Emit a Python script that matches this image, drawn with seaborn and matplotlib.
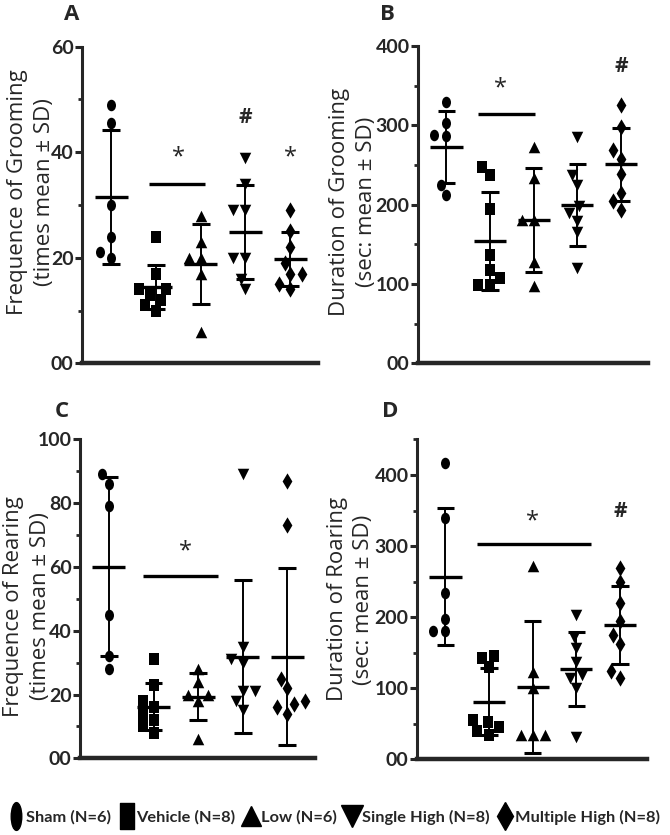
import numpy as np
import pandas as pd
import matplotlib
matplotlib.use('Agg')
import matplotlib.pyplot as plt
import seaborn as sns
from matplotlib.path import Path
from matplotlib.transforms import Affine2D
from matplotlib.lines import Line2D
from matplotlib.ticker import MultipleLocator, FuncFormatter

groups = ['Sham', 'Vehicle', 'Low', 'Single High', 'Multiple High']
group_n = [6, 8, 6, 8, 8]

# individual animals, per group
groom_freq = [[49, 45.5, 30, 24, 21, 20],
              [24, 17, 14, 14, 13, 12, 11, 10],
              [28, 23, 20, 20, 17, 6],
              [39, 34, 29, 29, 20, 20, 16, 14],
              [29, 25, 22, 19, 17, 17, 15, 14]]
groom_freq_mean = [31.5, 14.5, 18.8, 24.9, 19.7]
groom_freq_sd = [12.7, 4.2, 7.6, 8.9, 5.1]

groom_dur = [[330, 303, 288, 287, 225, 212],
             [248, 237, 195, 137, 118, 107, 99, 99],
             [273, 233, 181, 181, 128, 97],
             [285, 238, 225, 198, 190, 180, 165, 120],
             [326, 298, 269, 258, 239, 215, 204, 193]]
groom_dur_mean = [272.7, 154, 180.7, 199.6, 250.8]
groom_dur_sd = [45.5, 62, 66, 52, 46]

rear_freq = [[89, 86, 79, 45, 32, 28],
             [31, 23, 18, 16, 14, 12, 10, 8],
             [28, 24, 20, 20, 18, 6],
             [89, 35, 31, 30, 21, 21, 18, 15],
             [87, 73, 25, 22, 18, 17, 16, 14]]
rear_freq_mean = [60.1, 16.2, 19.3, 31.8, 31.8]
rear_freq_sd = [28, 7.4, 7.3, 24, 27.7]

rear_dur = [[417, 339, 234, 198, 180, 180],
            [145, 143, 130, 55, 53, 45, 40, 35],
            [272, 123, 100, 34, 34, 34],
            [203, 172, 156, 137, 119, 114, 100, 32],
            [269, 250, 220, 194, 175, 162, 125, 114]]
rear_dur_mean = [257, 81, 102, 126.6, 189]
rear_dur_sd = [96, 47, 93, 52, 54.5]

sns.set_style('white')
plt.rcParams['font.family'] = ['Open Sans', 'DejaVu Sans']

ellipse = Path.unit_circle().transformed(Affine2D().scale(0.78, 1.0))
rect = Path.unit_rectangle().transformed(Affine2D().translate(-0.5, -0.5).scale(0.85, 1.0))
markers = [ellipse, rect, '^', 'v', 'd']


def draw_panel(ax, values, means, sds, ymax, step, ylabel, label_xy, marks, lines):
    df = pd.DataFrame({
        'group': [g for g, v in zip(groups, values) for _ in v],
        'value': [x for v in values for x in v],
    })
    for g, m in zip(groups, markers):
        sns.swarmplot(data=df[df['group'] == g], x='group', y='value', order=groups,
                      marker=m, color='black', size=8.3, linewidth=0, ax=ax)
    for i, (mu, sd) in enumerate(zip(means, sds)):
        ax.vlines(i, mu - sd, mu + sd, color='black', lw=1.4)
        ax.hlines([mu - sd, mu + sd], i - 0.2, i + 0.2, color='black', lw=2.2)
        ax.hlines(mu, i - 0.37, i + 0.37, color='black', lw=2.4)

    for x0, x1, y in lines:
        ax.plot([x0, x1], [y, y], color='black', lw=2.4, solid_capstyle='butt')
    for sym, x, y in marks:
        if sym == '#':
            ax.text(x, y, sym, ha='center', va='center', fontsize=15, fontweight='bold')
        else:
            ax.text(x, y, sym, ha='center', va='center', fontsize=17)

    ax.set_xlim(-0.65, 4.62)
    ax.set_ylim(0, ymax)
    ax.set_xticks([])
    ax.set_xlabel('')
    ax.set_ylabel(ylabel, fontsize=16, linespacing=1.35)
    ax.yaxis.set_label_coords(*label_xy)
    sns.despine(ax=ax)
    ax.spines['left'].set_linewidth(2.2)
    ax.spines['bottom'].set_linewidth(3.2)
    ax.yaxis.set_major_locator(MultipleLocator(step))
    ax.yaxis.set_minor_locator(MultipleLocator(step / 2))
    ax.yaxis.set_major_formatter(FuncFormatter(lambda v, p: '00' if v == 0 else f'{v:.0f}'))
    ax.tick_params(axis='y', which='major', length=5, width=2.2, pad=1, labelsize=14, left=True)
    ax.tick_params(axis='y', which='minor', length=3, width=2, left=True)
    for t in ax.get_yticklabels():
        t.set_fontweight('bold')
        t.set_family(['Lato', 'DejaVu Sans'])


W, H = 670, 835
fig = plt.figure(figsize=(W / 100, H / 100), dpi=100)


def add_ax(left, top, width, height):
    return fig.add_axes([left / W, 1 - (top + height) / H, width / W, height / H])


axA = add_ax(82, 46.7, 236, 316.6)
axB = add_ax(418, 46, 230, 317.3)
axC = add_ax(80, 439.3, 235, 319)
axD = add_ax(417, 439.4, 230, 320)

draw_panel(axA, groom_freq, groom_freq_mean, groom_freq_sd, 60, 20,
           'Frequence of Grooming\n(times mean ± SD)', (-0.115, 0.54),
           [('*', 1.5, 39), ('#', 3, 46.5), ('*', 4, 39)], [(0.85, 2.1, 34.0)])
draw_panel(axB, groom_dur, groom_dur_mean, groom_dur_sd, 400, 100,
           'Duration of Grooming\n(sec: mean ± SD)', (-0.18, 0.51),
           [('*', 1.23, 346), ('#', 4, 374)], [(0.73, 2.03, 314)])
draw_panel(axC, rear_freq, rear_freq_mean, rear_freq_sd, 100, 20,
           'Frequence of Rearing\n(times mean ± SD)', (-0.125, 0.476),
           [('*', 1.72, 65)], [(0.77, 2.45, 57)])
draw_panel(axD, rear_dur, rear_dur_mean, rear_dur_sd, 450, 100,
           'Duration of Roaring\n(sec: mean ± SD)', (-0.185, 0.5),
           [('*', 1.99, 334), ('#', 4, 349)], [(0.73, 3.34, 303)])

for letter, x, y in [('A', 72, 15), ('B', 387, 15), ('C', 62, 412), ('D', 390, 412)]:
    fig.text(x / W, 1 - y / H, letter, ha='center', va='center', fontsize=16, fontweight='bold')

# legend along the bottom
leg_ellipse = Path.unit_circle().transformed(Affine2D().scale(0.38, 1.0))
leg_rect = Path.unit_rectangle().transformed(Affine2D().translate(-0.5, -0.5).scale(0.5, 1.0))
leg_markers = [(leg_ellipse, 20), (leg_rect, 19), ('^', 15), ('v', 16), ('d', 14)]
handles = [Line2D([], [], ls='none', marker=m, markersize=s, color='black') for m, s in leg_markers]
labels = [f'{g} (N={n})' for g, n in zip(groups, group_n)]
fig.legend(handles, labels, loc='center', bbox_to_anchor=(0.5, 1 - 817 / H), ncol=5,
           frameon=False, handletextpad=0.2, columnspacing=0.55, handlelength=0.8,
           borderpad=0, borderaxespad=0,
           prop={'family': ['Lato', 'DejaVu Sans'], 'weight': 'bold', 'size': 11.8})

fig.savefig('out.png', dpi=100)
